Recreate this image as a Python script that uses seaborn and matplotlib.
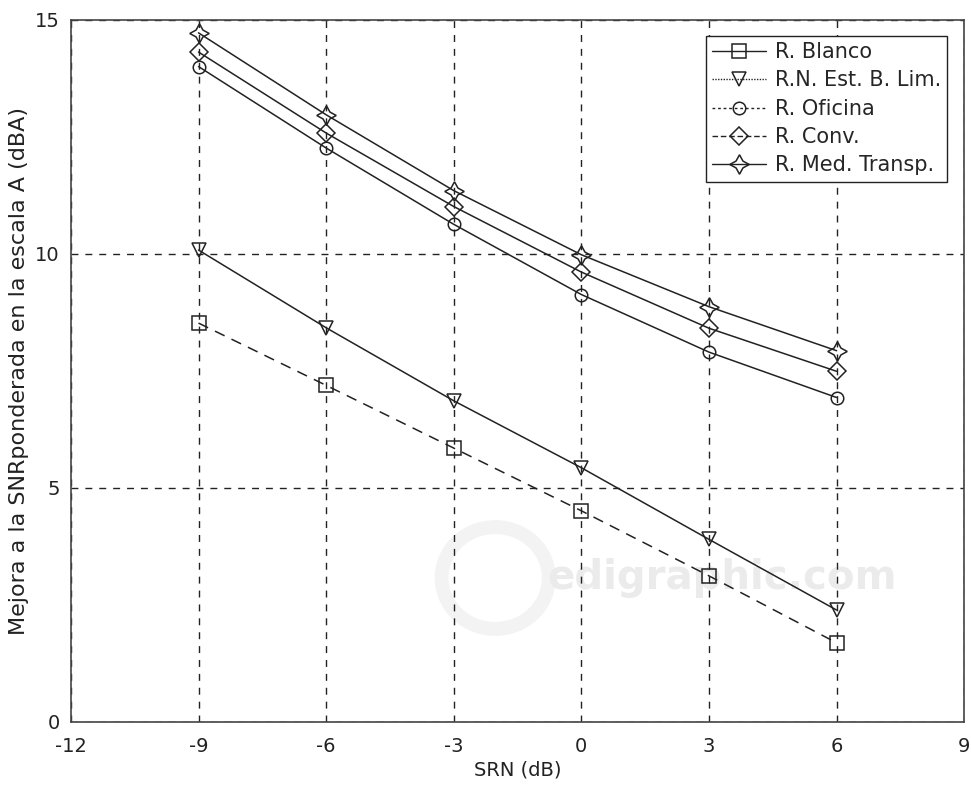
import numpy as np
import pandas as pd
import seaborn as sns
import matplotlib.pyplot as plt
from matplotlib.lines import Line2D
from matplotlib.patches import Ellipse

##
# Datos
##
srn = [-9, -6, -3, 0, 3, 6]
blanco = [8.52, 7.19, 5.85, 4.51, 3.12, 1.69]
est_b_lim = [10.08, 8.42, 6.86, 5.43, 3.90, 2.39]
oficina = [14.00, 12.26, 10.63, 9.13, 7.90, 6.93]
conv = [14.31, 12.58, 11.01, 9.61, 8.41, 7.49]
med_transp = [14.72, 12.97, 11.35, 9.98, 8.87, 7.93]

names = ['R. Blanco', 'R.N. Est. B. Lim.', 'R. Oficina', 'R. Conv.', 'R. Med. Transp.']
series = [blanco, est_b_lim, oficina, conv, med_transp]
xticks = [-12, -9, -6, -3, 0, 3, 6, 9]
yticks = [0, 5, 10, 15]

sns.set_style('white')
plt.rcParams['font.family'] = ['DejaVu Sans']

df = pd.DataFrame({
    'SRN': np.tile(srn, len(names)),
    'val': np.concatenate(series),
    'serie': np.repeat(names, len(srn)),
})

fig = plt.figure(figsize=(9.71, 7.89), dpi=100)
ax = fig.add_axes([0.073, 0.085, 0.920, 0.890])

markers = {'R. Blanco': 's', 'R.N. Est. B. Lim.': 'v', 'R. Oficina': 'o',
           'R. Conv.': 'D', 'R. Med. Transp.': (4, 1, 0)}
msize = {'R. Blanco': 9.5, 'R.N. Est. B. Lim.': 10.5, 'R. Oficina': 9,
         'R. Conv.': 9.5, 'R. Med. Transp.': 14}
plot_ls = {'R. Blanco': (0, (7, 5)), 'R.N. Est. B. Lim.': '-', 'R. Oficina': '-',
           'R. Conv.': '-', 'R. Med. Transp.': '-'}

for name in names:
    sub = df[df['serie'] == name]
    sns.lineplot(data=sub, x='SRN', y='val', ax=ax, color='#222222', lw=1.1,
                 linestyle=plot_ls[name], marker=markers[name], ms=msize[name],
                 markerfacecolor='none', markeredgecolor='#222222', mew=1.1,
                 legend=False, zorder=3)

ax.set_xlim(-12, 9)
ax.set_ylim(0, 15)
ax.set_xticks(xticks)
ax.set_yticks(yticks)
ax.set_xticklabels([str(t) for t in xticks])
ax.set_yticklabels([str(t) for t in yticks])
ax.tick_params(axis='both', labelsize=14, length=0, colors='#222222')
ax.tick_params(axis='x', pad=11)
ax.tick_params(axis='y', pad=8)
ax.grid(True, color='#222222', linestyle=(0, (5, 5)), lw=1.0)
for s in ax.spines.values():
    s.set_color('#444444')
    s.set_linewidth(1.2)

ax.set_xlabel('SRN (dB)', fontsize=14, color='#222222', labelpad=3)
ax.set_ylabel('Mejora a la SNRponderada en la escala A (dBA)', fontsize=16,
              color='#222222', labelpad=4)

# marca de agua
ax.add_patch(Ellipse((0.475, 0.205), 0.12, 0.145, transform=ax.transAxes,
                     fill=False, edgecolor='#f3f3f3', lw=10, zorder=0.5))
ax.text(0.729, 0.205, 'edigraphic.com', transform=ax.transAxes, fontsize=29,
        fontweight='bold', color='#ebebeb', ha='center', va='center', zorder=0.5)

# leyenda como en la figura original
leg_ls = ['-', (0, (1, 1)), (0, (2, 2)), (0, (4, 2)), '-']
handles = [Line2D([], [], color='#222222', lw=1.0, linestyle=leg_ls[i],
                  marker=markers[n], ms=msize[n], markerfacecolor='none',
                  markeredgecolor='#222222', mew=1.1)
           for i, n in enumerate(names)]
leg = ax.legend(handles, names, loc='upper right', fontsize=15, frameon=True,
                fancybox=False, edgecolor='#222222', framealpha=1,
                handlelength=2.6, handletextpad=0.4, labelspacing=0.4,
                borderpad=0.3, borderaxespad=0, bbox_to_anchor=(0.981, 0.977))
leg.get_frame().set_linewidth(1.0)

fig.savefig('out.png', dpi=100)
